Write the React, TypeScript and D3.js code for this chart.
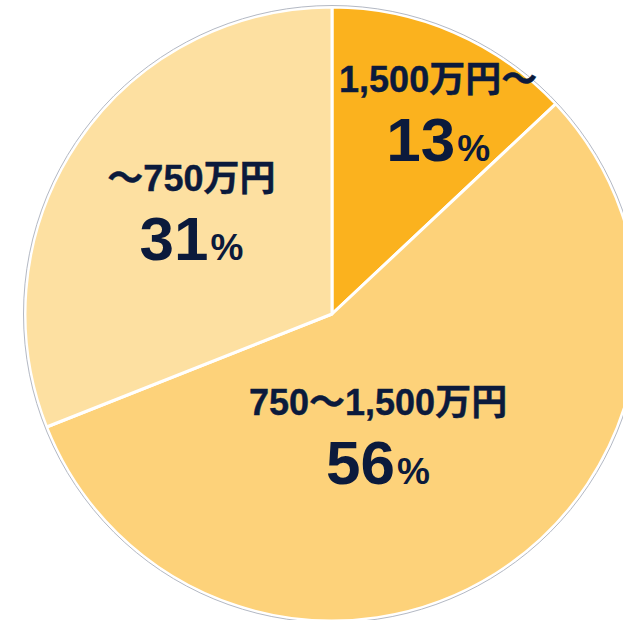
import React from "react";
import * as d3 from "d3";

const categories = ["1,500万円～", "750～1,500万円", "～750万円"];
const values = [13, 56, 31];
const sliceColors = ["#FBB21E", "#FDD27A", "#FDE0A1"];

// label layout: rotation offset (rad) from slice mid-angle and radius
const labelLayout = [
  { dAngle: 0.09, r: 222 },
  { dAngle: 0.22, r: 136 },
  { dAngle: 0.0, r: 170 },
];

const W = 623;
const H = 620;
const CX = 332;
const CY = 314;
const R = 307;
const TEXT = "#0B1A3C";
const FONT = "'Liberation Sans', Arial, 'Noto Sans CJK JP', sans-serif";

export default function App() {
  const data = categories.map((c, i) => ({ cat: c, value: values[i], i }));
  const pie = d3
    .pie<any>()
    .sort(null)
    .value((d: any) => d.value)
    .startAngle(0)
    .endAngle(2 * Math.PI);
  const arcs = pie(data);
  const arc = d3.arc<any>().innerRadius(0).outerRadius(R);

  return (
    <svg
      width={W}
      height={H}
      style={{ position: "absolute", left: 0, top: 0, display: "block", background: "#fff" }}
    >
      <g transform={`translate(${CX},${CY})`}>
        {arcs.map((a: any, i: number) => (
          <path
            key={i}
            d={arc(a) || ""}
            fill={sliceColors[i]}
            stroke="#FFFFFF"
            strokeWidth={3}
            strokeLinejoin="round"
          />
        ))}
        <circle r={R + 1.5} fill="none" stroke="#B4B9C4" strokeWidth={1} />
        {arcs.map((a: any, i: number) => {
          const mid = (a.startAngle + a.endAngle) / 2 + labelLayout[i].dAngle;
          const r = labelLayout[i].r;
          const x = Math.sin(mid) * r;
          const y = -Math.cos(mid) * r;
          return (
            <g key={"l" + i} transform={`translate(${x},${y})`} fill={TEXT} fontFamily={FONT} fontWeight="bold">
              <text x={0} y={-27} textAnchor="middle" fontSize={36} stroke={TEXT} strokeWidth={0.4}>
                {categories[i]}
              </text>
              <text x={0} y={42} textAnchor="middle" fontSize={62}>
                {values[i]}
                <tspan fontSize={37} dx={2}>%</tspan>
              </text>
            </g>
          );
        })}
      </g>
    </svg>
  );
}
